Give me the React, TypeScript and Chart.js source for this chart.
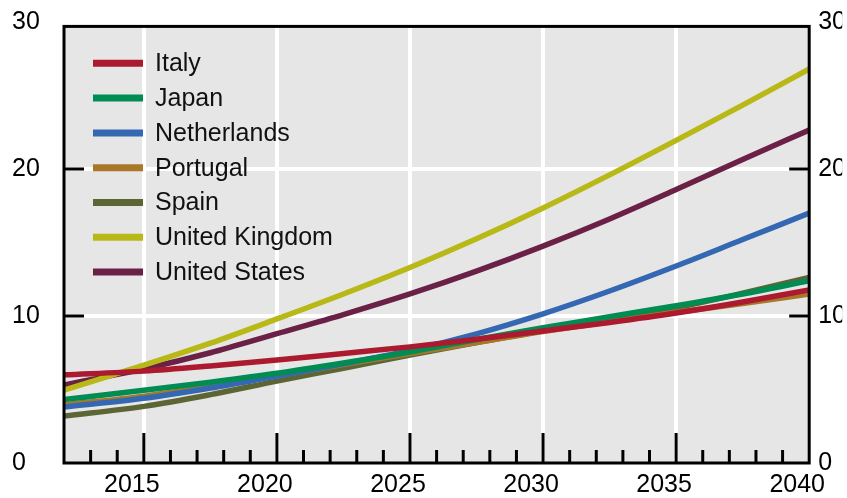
import React, { useEffect, useRef } from "react";
import { Chart, registerables } from "chart.js";

Chart.register(...registerables);

// ---- Data ----
const YEARS = [2012, 2015, 2017.5, 2020, 2022.5, 2025, 2027.5, 2030, 2032.5, 2035, 2037.5, 2040];

const ITALY = [6.0, 6.25, 6.6, 7.0, 7.45, 7.9, 8.42, 8.98, 9.56, 10.2, 10.95, 11.78];
const JAPAN = [4.32, 4.95, 5.5, 6.1, 6.8, 7.55, 8.4, 9.2, 9.95, 10.7, 11.5, 12.4];
const NETHERLANDS = [3.8, 4.4, 5.1, 5.92, 6.75, 7.66, 8.79, 10.15, 11.7, 13.4, 15.2, 17.0];
const PORTUGAL = [3.95, 4.55, 5.2, 5.95, 6.7, 7.45, 8.2, 8.95, 9.6, 10.25, 10.85, 11.5];
const SPAIN = [3.19, 3.85, 4.65, 5.57, 6.45, 7.35, 8.2, 9.0, 9.75, 10.55, 11.55, 12.63];
const UNITED_KINGDOM = [4.95, 6.65, 8.15, 9.8, 11.5, 13.3, 15.25, 17.35, 19.6, 21.95, 24.35, 26.8];
const UNITED_STATES = [5.3, 6.4, 7.5, 8.8, 10.1, 11.5, 13.05, 14.75, 16.6, 18.6, 20.65, 22.65];

const SERIES_NAMES = ["Italy", "Japan", "Netherlands", "Portugal", "Spain", "United Kingdom", "United States"];
const SERIES_VALUES = [ITALY, JAPAN, NETHERLANDS, PORTUGAL, SPAIN, UNITED_KINGDOM, UNITED_STATES];
const SERIES_COLORS = ["#AC1A2F", "#008C52", "#3468B2", "#A87828", "#5C6634", "#B8B816", "#6B2046"];

const Y_TICKS = [0, 10, 20, 30];
const X_LABEL_YEARS = [2015, 2020, 2025, 2030, 2035, 2040];
const X_MIN = 2012;
const X_MAX = 2040;
const Y_MIN = 0;
const Y_MAX = 30;
const FRAME_TOP_VALUE = 29.7;

const FONT = "'Liberation Sans', Arial, Helvetica, sans-serif";

export default function App() {
  const ref = useRef<HTMLCanvasElement>(null);

  useEffect(() => {
    const canvas = ref.current;
    if (!canvas) return;

    const backgroundPlugin = {
      id: "bgPlugin",
      beforeDraw(chart: any) {
        const { ctx, chartArea } = chart;
        const y = chart.scales.y;
        const top = y.getPixelForValue(FRAME_TOP_VALUE);
        ctx.save();
        ctx.fillStyle = "#E6E6E6";
        ctx.fillRect(chartArea.left, top, chartArea.right - chartArea.left, chartArea.bottom - top);
        ctx.restore();
      },
    };

    const framePlugin = {
      id: "framePlugin",
      afterDatasetsDraw(chart: any) {
        const { ctx } = chart;
        const xs = chart.scales.x;
        const ys = chart.scales.y;
        const top = ys.getPixelForValue(FRAME_TOP_VALUE);
        const bottom = ys.getPixelForValue(Y_MIN);
        const left = xs.getPixelForValue(X_MIN);
        const right = xs.getPixelForValue(X_MAX);
        ctx.save();
        ctx.strokeStyle = "#000";
        ctx.lineWidth = 3;
        for (let yr = X_MIN + 1; yr < X_MAX; yr++) {
          const px = xs.getPixelForValue(yr);
          const len = yr % 5 === 0 ? 30 : 13;
          ctx.beginPath();
          ctx.moveTo(px, bottom);
          ctx.lineTo(px, bottom - len);
          ctx.stroke();
        }
        for (const v of Y_TICKS) {
          if (v === Y_MIN || v === Y_MAX) continue;
          const py = ys.getPixelForValue(v);
          ctx.beginPath();
          ctx.moveTo(left, py);
          ctx.lineTo(left + 20, py);
          ctx.moveTo(right, py);
          ctx.lineTo(right - 20, py);
          ctx.stroke();
        }
        ctx.strokeRect(left, top, right - left, bottom - top);
        ctx.restore();
      },
    };

    const legendPlugin = {
      id: "legendPlugin",
      afterDraw(chart: any) {
        const { ctx, chartArea } = chart;
        ctx.save();
        ctx.font = `25px ${FONT}`;
        ctx.textBaseline = "middle";
        ctx.textAlign = "left";
        chart.data.datasets.forEach((ds: any, i: number) => {
          const y = chartArea.top + 41.3 + i * 34.8;
          ctx.strokeStyle = ds.borderColor;
          ctx.lineWidth = 7;
          ctx.beginPath();
          ctx.moveTo(chartArea.left + 29, y);
          ctx.lineTo(chartArea.left + 79, y);
          ctx.stroke();
          ctx.fillStyle = "#111";
          ctx.fillText(ds.label, chartArea.left + 91, y + 1);
        });
        ctx.restore();
      },
    };

    const setTicks = (vals: number[]) => (scale: any) => {
      scale.ticks = vals.map((v) => ({ value: v }));
    };

    const chart = new Chart(canvas, {
      type: "line",
      data: {
        datasets: SERIES_NAMES.map((name, i) => ({
          label: name,
          data: YEARS.map((yr, j) => ({ x: yr, y: SERIES_VALUES[i][j] })),
          borderColor: SERIES_COLORS[i],
          backgroundColor: SERIES_COLORS[i],
          borderWidth: 5.5,
          pointRadius: 0,
          cubicInterpolationMode: "monotone" as const,
          fill: false,
        })),
      },
      options: {
        animation: false,
        responsive: false,
        layout: { padding: { left: 12, top: 22, right: 0, bottom: 0 } },
        plugins: {
          legend: { display: false },
          tooltip: { enabled: false },
        },
        scales: {
          x: {
            type: "linear",
            min: X_MIN,
            max: X_MAX,
            afterBuildTicks: setTicks(X_LABEL_YEARS),
            afterFit: (s: any) => {
              s.height = 35;
            },
            border: { display: false },
            grid: {
              color: (c: any) => (c.tick && c.tick.value === X_MAX ? "rgba(0,0,0,0)" : "#FFFFFF"),
              lineWidth: 4,
              drawTicks: false,
            },
            ticks: {
              callback: (v: any) => String(v),
              labelOffset: -12,
              padding: 10,
              maxRotation: 0,
              autoSkip: false,
              color: "#000",
              font: { family: FONT, size: 25, lineHeight: 1 },
            },
          },
          y: {
            type: "linear",
            position: "left",
            min: Y_MIN,
            max: Y_MAX,
            afterBuildTicks: setTicks(Y_TICKS),
            afterFit: (s: any) => {
              s.width = 52;
            },
            border: { display: false },
            grid: {
              color: (c: any) =>
                c.tick && (c.tick.value === Y_MIN || c.tick.value === Y_MAX) ? "rgba(0,0,0,0)" : "#FFFFFF",
              lineWidth: 4,
              drawTicks: false,
            },
            ticks: {
              crossAlign: "far",
              padding: 0,
              color: "#000",
              font: { family: FONT, size: 25, lineHeight: 1 },
            },
          },
          y2: {
            type: "linear",
            position: "right",
            min: Y_MIN,
            max: Y_MAX,
            afterBuildTicks: setTicks(Y_TICKS),
            afterFit: (s: any) => {
              s.width = 33;
            },
            border: { display: false },
            grid: { display: false, drawTicks: false },
            ticks: {
              padding: 9,
              color: "#000",
              font: { family: FONT, size: 25, lineHeight: 1 },
            },
          },
        },
      },
      plugins: [backgroundPlugin, framePlugin, legendPlugin],
    });

    return () => chart.destroy();
  }, []);

  return (
    <div style={{ position: "fixed", left: 0, top: 0, width: 847, height: 498, background: "#fff" }}>
      <canvas ref={ref} width={847} height={498} style={{ display: "block" }} />
    </div>
  );
}
